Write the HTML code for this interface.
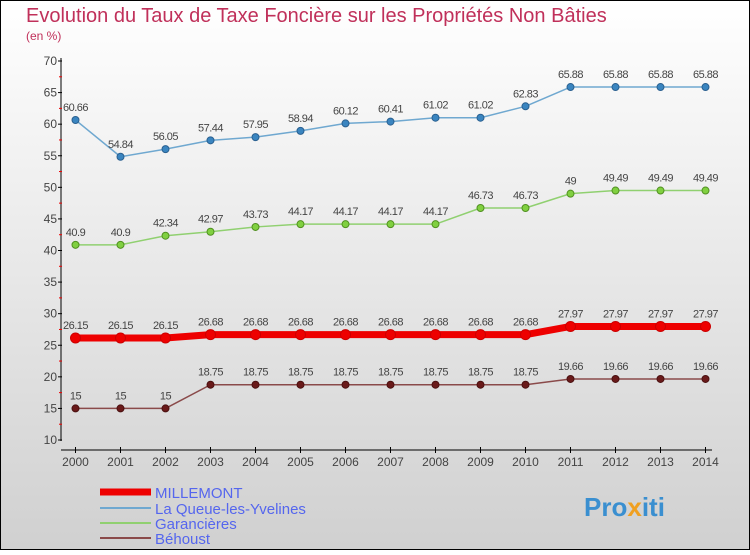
<!DOCTYPE html>
<html><head><meta charset="utf-8"><style>
body{margin:0;width:750px;height:550px;overflow:hidden;font-family:"Liberation Sans",sans-serif}
</style></head><body>
<svg id="c" width="750" height="550" xmlns="http://www.w3.org/2000/svg" font-family="Liberation Sans, sans-serif">
<defs><linearGradient id="bg" x1="0" y1="0" x2="0" y2="1"><stop offset="0" stop-color="#ffffff"/><stop offset="1" stop-color="#d0d0d0"/></linearGradient></defs>
<rect x="0.5" y="0.5" width="749" height="549" fill="url(#bg)" stroke="#000"/>
<text x="26" y="22" font-size="20" fill="#c0305a">Evolution du Taux de Taxe Foncière sur les Propriétés Non Bâties</text>
<text x="26" y="40" font-size="12" fill="#c0305a">(en %)</text>
<g id="axes"></g><g id="series"></g>
<g>
<line x1="100" y1="492" x2="151" y2="492" stroke="#ee0000" stroke-width="7"/>
<text x="155" y="498" font-size="15" fill="#5566ee">MILLEMONT</text>
<line x1="100" y1="508" x2="151" y2="508" stroke="#6fa8d0" stroke-width="2"/>
<text x="155" y="514" font-size="15" fill="#5566ee">La Queue-les-Yvelines</text>
<line x1="100" y1="523" x2="151" y2="523" stroke="#90d070" stroke-width="2"/>
<text x="155" y="529" font-size="15" fill="#5566ee">Garancières</text>
<line x1="100" y1="538" x2="151" y2="538" stroke="#8a4a4a" stroke-width="2"/>
<text x="155" y="544" font-size="15" fill="#5566ee">Béhoust</text>
</g>
<text x="584" y="516" font-size="26" font-weight="bold" fill="#3a8fd0">Pro<tspan fill="#f0a020">x</tspan>iti</text>
</svg>
<script>
const years=[2000,2001,2002,2003,2004,2005,2006,2007,2008,2009,2010,2011,2012,2013,2014];
const yTicks=[10,15,20,25,30,35,40,45,50,55,60,65,70];
const millemont=[26.15,26.15,26.15,26.68,26.68,26.68,26.68,26.68,26.68,26.68,26.68,27.97,27.97,27.97,27.97];
const laQueue=[60.66,54.84,56.05,57.44,57.95,58.94,60.12,60.41,61.02,61.02,62.83,65.88,65.88,65.88,65.88];
const garancieres=[40.9,40.9,42.34,42.97,43.73,44.17,44.17,44.17,44.17,46.73,46.73,49,49.49,49.49,49.49];
const behoust=[15,15,15,18.75,18.75,18.75,18.75,18.75,18.75,18.75,18.75,19.66,19.66,19.66,19.66];
const NS="http://www.w3.org/2000/svg";
const X=i=>75.5+i*45;
const Y=v=>440-(v-10)*(379/60);
function mk(t,a,p){const e=document.createElementNS(NS,t);for(const k in a)e.setAttribute(k,a[k]);p.appendChild(e);return e;}
const ax=document.getElementById('axes');
let yl=mk('line',{x1:61,y1:58,x2:61,y2:441,stroke:'#000'},ax);


let xl=mk('line',{x1:61,y1:450,x2:712,y2:450,stroke:'#000'},ax);


yTicks.forEach((v,k)=>{
 mk('line',{x1:58,y1:Y(v),x2:62,y2:Y(v),stroke:'#000'},ax);
 if(k<yTicks.length-1)mk('line',{x1:59,y1:Y(v+2.5),x2:62,y2:Y(v+2.5),stroke:'#e00'},ax);
 const t=mk('text',{x:57,y:Y(v)+4,'font-size':12,fill:'#444','text-anchor':'end'},ax);
 t.textContent=v;
 
 
});
years.forEach((y,i)=>{
 mk('line',{x1:X(i),y1:447,x2:X(i),y2:453,stroke:'#000'},ax);
 const t=mk('text',{x:X(i),y:466,'font-size':12,fill:'#444','text-anchor':'middle'},ax);
 t.textContent=y;
 
 
});
const sg=document.getElementById('series');
function draw(vals,name,col,w,dot,dotStroke,r){
 const g=mk('g',{},sg);
 
 
 const p=mk('polyline',{points:vals.map((v,i)=>X(i)+','+Y(v)).join(' '),fill:'none',stroke:col,'stroke-width':w,'stroke-linejoin':'round'},g);
 
 
 vals.forEach((v,i)=>{
  const c=mk('circle',{cx:X(i),cy:Y(v),r:r,fill:dot,stroke:dotStroke,'stroke-width':1},g);
  
  
  const t=mk('text',{x:X(i),y:Y(v)-9,'font-size':11,fill:'#444','text-anchor':'middle','letter-spacing':'-0.5'},g);
  t.textContent=v;
  
  
 });
}
draw(laQueue,'la-queue','#6fa8d0',1.5,'#3a85c0','#2a6090',3.5);
draw(garancieres,'garancieres','#90d070',1.5,'#80d040','#509020',3.5);
draw(behoust,'behoust','#8a4a4a',1.5,'#6a1a1a','#4a1010',3.5);
draw(millemont,'millemont','#ee0000',7,'#ee0000','#cc0000',5);
</script>
</body></html>
